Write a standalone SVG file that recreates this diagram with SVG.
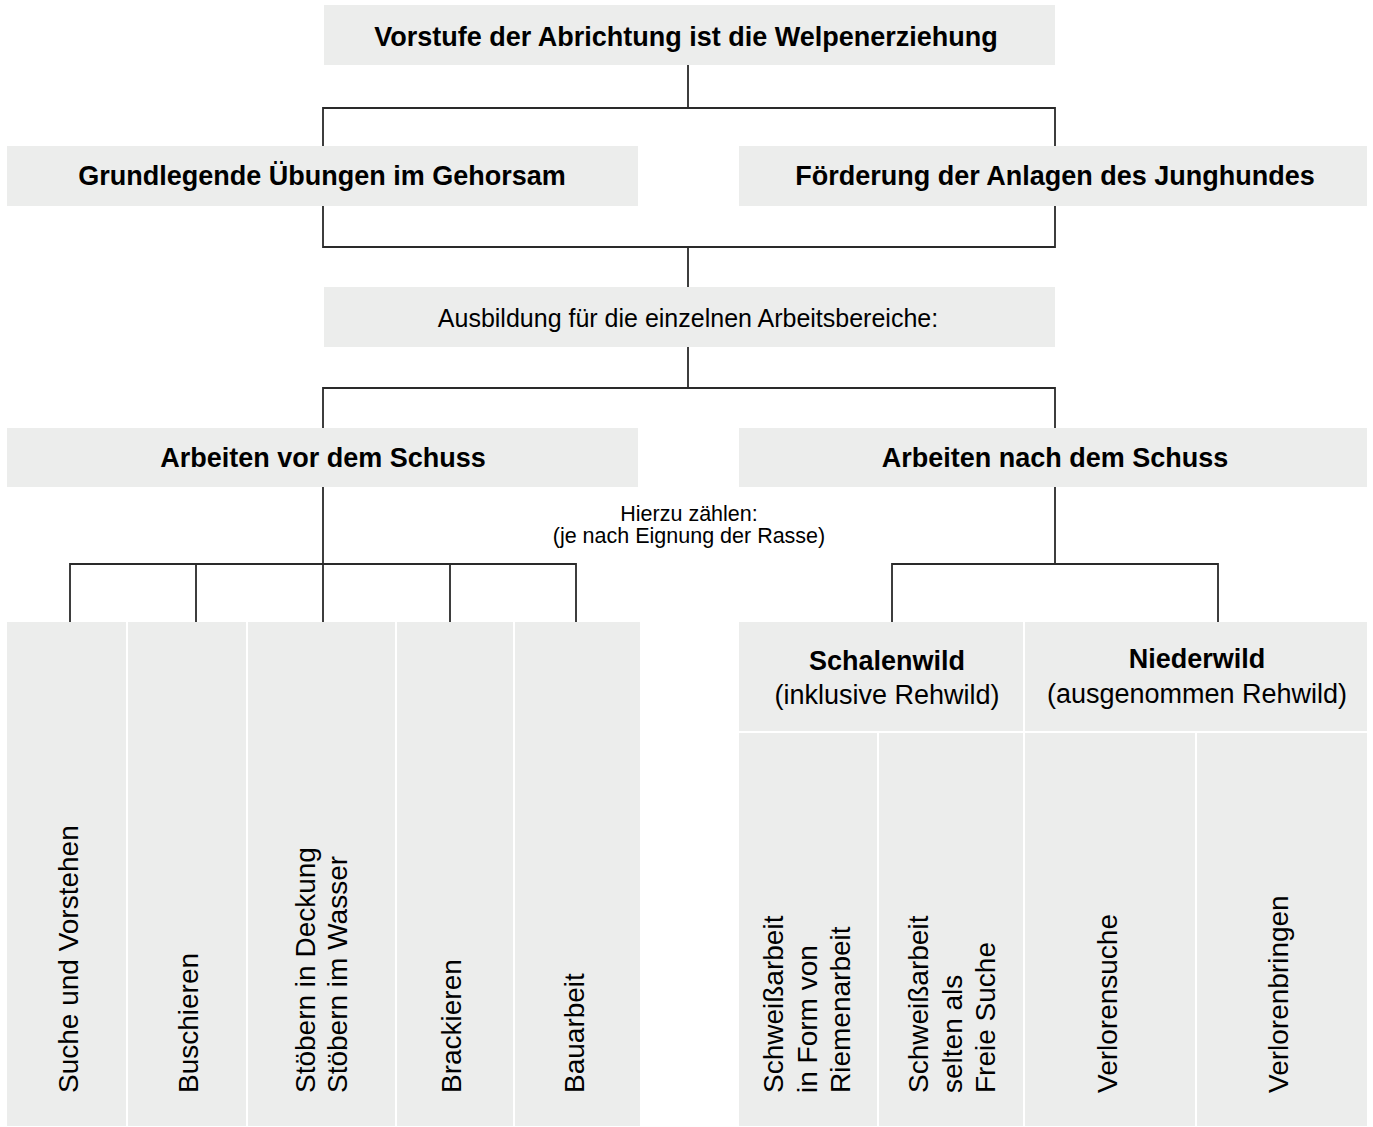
<svg xmlns="http://www.w3.org/2000/svg" width="1373" height="1127" viewBox="0 0 1373 1127">
<style>
.box{fill:#ecedec}
.b{font-family:"Liberation Sans",Arial,sans-serif;font-weight:bold;font-size:27px;fill:#000;text-anchor:middle}
.r{font-family:"Liberation Sans",Arial,sans-serif;font-size:25px;fill:#000;text-anchor:middle}
.s{font-family:"Liberation Sans",Arial,sans-serif;font-size:21.5px;fill:#000;text-anchor:middle}
.v{font-family:"Liberation Sans",Arial,sans-serif;font-size:28px;fill:#000}
.ln{fill:none;stroke:#2a2a2a;stroke-width:1.8}
</style>
<rect width="1373" height="1127" fill="#fff"/>
<g id="connectors">
<path class="ln" d="M688,65V108M323,147V108H1055V147"/>
<path class="ln" d="M323,206V247H1055V206M688,247V287"/>
<path class="ln" d="M688,347V388M323,428V388H1055V428"/>
<path class="ln" d="M323,487V564M70,622V564H576V622M196,564V622M323,564V622M450,564V622"/>
<path class="ln" d="M1055,487V564M892,622V564H1218V622"/>
</g>
<g id="n-welpen"><rect class="box" x="324" y="5" width="731" height="60"/><text class="b" x="686" y="46">Vorstufe der Abrichtung ist die Welpenerziehung</text></g>
<g id="n-gehorsam"><rect class="box" x="7" y="146" width="631" height="60"/><text class="b" x="322" y="185">Grundlegende Übungen im Gehorsam</text></g>
<g id="n-anlagen"><rect class="box" x="739" y="146" width="628" height="60"/><text class="b" x="1055" y="185">Förderung der Anlagen des Junghundes</text></g>
<g id="n-ausbildung"><rect class="box" x="324" y="287" width="731" height="60"/><text class="r" x="688" y="327">Ausbildung für die einzelnen Arbeitsbereiche:</text></g>
<g id="n-vor"><rect class="box" x="7" y="428" width="631" height="59"/><text class="b" x="323" y="467">Arbeiten vor dem Schuss</text></g>
<g id="n-nach"><rect class="box" x="739" y="428" width="628" height="59"/><text class="b" x="1055" y="467">Arbeiten nach dem Schuss</text></g>
<g id="n-hierzu"><text class="s" x="689" y="521">Hierzu zählen:</text><text class="s" x="689" y="543">(je nach Eignung der Rasse)</text></g>
<g id="n-suche"><rect class="box" x="7" y="622" width="119" height="504"/><text class="v" transform="translate(78,1093) rotate(-90)">Suche und Vorstehen</text></g>
<g id="n-buschieren"><rect class="box" x="128" y="622" width="118" height="504"/><text class="v" transform="translate(198,1093) rotate(-90)">Buschieren</text></g>
<g id="n-stoebern"><rect class="box" x="248" y="622" width="147" height="504"/><text class="v" transform="translate(315,1093) rotate(-90)"><tspan x="0" y="0">Stöbern in Deckung</tspan><tspan x="0" y="32">Stöbern im Wasser</tspan></text></g>
<g id="n-brackieren"><rect class="box" x="397" y="622" width="116" height="504"/><text class="v" transform="translate(461,1093) rotate(-90)">Brackieren</text></g>
<g id="n-bauarbeit"><rect class="box" x="515" y="622" width="125" height="504"/><text class="v" transform="translate(584,1093) rotate(-90)">Bauarbeit</text></g>
<g id="n-schalenwild"><rect class="box" x="739" y="622" width="284" height="109"/><text class="b" x="887" y="670">Schalenwild</text><text class="r" x="887" y="704" style="font-size:27px">(inklusive Rehwild)</text></g>
<g id="n-niederwild"><rect class="box" x="1025" y="622" width="342" height="109"/><text class="b" x="1197" y="668">Niederwild</text><text class="r" x="1197" y="703" style="font-size:27px">(ausgenommen Rehwild)</text></g>
<g id="n-riemen"><rect class="box" x="739" y="733" width="138" height="393"/><text class="v" transform="translate(783,1093) rotate(-90)"><tspan x="0" y="0">Schweißarbeit</tspan><tspan x="0" y="33.5">in Form von</tspan><tspan x="0" y="67">Riemenarbeit</tspan></text></g>
<g id="n-freie"><rect class="box" x="879" y="733" width="144" height="393"/><text class="v" transform="translate(928,1093) rotate(-90)"><tspan x="0" y="0">Schweißarbeit</tspan><tspan x="0" y="33.5">selten als</tspan><tspan x="0" y="67">Freie Suche</tspan></text></g>
<g id="n-verlorensuche"><rect class="box" x="1025" y="733" width="170" height="393"/><text class="v" transform="translate(1117,1093) rotate(-90)">Verlorensuche</text></g>
<g id="n-verlorenbringen"><rect class="box" x="1197" y="733" width="170" height="393"/><text class="v" transform="translate(1288,1093) rotate(-90)">Verlorenbringen</text></g>
</svg>
